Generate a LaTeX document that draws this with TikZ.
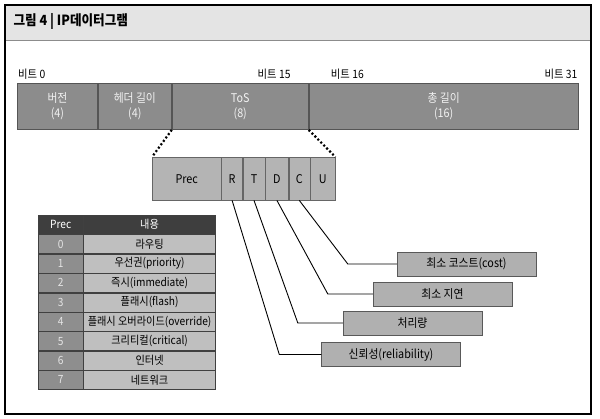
\documentclass[tikz,border=0pt]{standalone}
\usepackage{fontspec}
\setmainfont{Noto Sans CJK KR}[FakeStretch=0.9]
\usepackage{tikz}
\usetikzlibrary{positioning}
\usepackage{xcolor}
\definecolor{titlefill}{HTML}{E4E4E4}
\definecolor{barfill}{HTML}{8C8C8C}
\definecolor{bardiv}{HTML}{555555}
\definecolor{bartext}{HTML}{F2F2F2}
\definecolor{subfill}{HTML}{B4B4B4}
\definecolor{flagfill}{HTML}{B0B0B0}
\definecolor{headfill}{HTML}{3E3E3E}
\definecolor{numfill}{HTML}{8E8E8E}
\definecolor{cellfill}{HTML}{BFBFBF}
\tikzset{
  field/.style={draw=bardiv, fill=barfill, text=bartext, line width=0.9pt, align=center,
    minimum height=46pt, inner sep=0pt, font=\fontsize{12}{15}\selectfont},
  bitlbl/.style={inner sep=1pt, font=\fontsize{11.5}{13}\selectfont},
  sub/.style={draw=black!60, fill=subfill, minimum height=43pt, inner sep=0pt,
    font=\fontsize{12}{14}\selectfont},
  flag/.style={draw=black!65, fill=flagfill, minimum width=139pt, minimum height=24pt,
    inner sep=0pt, font=\fontsize{12}{14}\selectfont},
  thead/.style={draw=black!75, fill=headfill, text=white, minimum height=19pt, inner sep=0pt,
    font=\fontsize{11.3}{13}\selectfont},
  tnum/.style={thead, fill=numfill, text=white!90!black, minimum width=45pt},
  tcell/.style={thead, fill=cellfill, text=black, minimum width=132pt},
  dotline/.style={line width=2.2pt, dash pattern=on 2pt off 2.2pt},
  lead/.style={draw=black, line width=0.9pt}
}
\begin{document}
\begin{tikzpicture}[x=1pt, y=-1pt]
  \useasboundingbox (0,0) rectangle (600,419);

  % frame and title
  \node[fill=titlefill, minimum width=586pt, minimum height=36pt, inner sep=0pt, anchor=north west] (band) at (4,4) {};
  \draw[black!45] (band.south west) -- (band.south east);
  \node[draw=black, line width=2pt, minimum width=586pt, minimum height=409pt, inner sep=0pt, anchor=north west] (frame) at (4,4) {};
  \node[anchor=west, font=\bfseries\fontsize{14}{16}\selectfont] (title) at (10,22) {그림 4 | IP데이터그램};

  % header fields
  \node[field, minimum width=80pt, anchor=north west] (ver) at (17,83) {버전\\(4)};
  \node[field, minimum width=73pt, right=0pt of ver] (hlen) {헤더 길이\\(4)};
  \node[field, minimum width=136pt, right=0pt of hlen] (tos) {ToS\\(8)};
  \node[field, minimum width=269pt, right=0pt of tos] (len) {총 길이\\(16)};

  \node[bitlbl, anchor=south west] (b0) at ([yshift=2pt]ver.north west) {비트 0};
  \node[bitlbl, anchor=south east] (b15) at ([xshift=-17pt, yshift=2pt]tos.north east) {비트 15};
  \node[bitlbl, anchor=south west] (b16) at ([xshift=21pt, yshift=2pt]len.north west) {비트 16};
  \node[bitlbl, anchor=south east] (b31) at ([yshift=2pt]len.north east) {비트 31};

  % ToS bits
  \node[sub, minimum width=69pt, anchor=north west] (prec) at (152,157) {Prec};
  \node[sub, minimum width=21pt, right=0pt of prec] (r) {R};
  \node[sub, minimum width=22pt, right=0pt of r] (t) {T};
  \node[sub, minimum width=23pt, right=0pt of t] (d) {D};
  \node[sub, minimum width=21pt, right=0pt of d] (c) {C};
  \node[sub, minimum width=25pt, right=0pt of c] (u) {U};

  \draw[dotline] (tos.south west) -- (prec.north west);
  \draw[dotline] (tos.south east) -- (u.north east);

  % meanings
  \node[flag] (cost) at (466.5,264) {최소 코스트(cost)};
  \node[flag] (delay) at (442.5,294) {최소 지연};
  \node[flag] (thru) at (412.5,323) {처리량};
  \node[flag] (rel) at (391,354.5) {신뢰성(reliability)};

  \draw[lead] (c.south) -- ([xshift=-49pt]cost.west) -- (cost.west);
  \draw[lead] (d.south) -- ([xshift=-45pt]delay.west) -- (delay.west);
  \draw[lead] (t.south) -- ([xshift=-45pt]thru.west) -- (thru.west);
  \draw[lead] (r.south) -- ([xshift=-42pt]rel.west) -- (rel.west);

  % precedence table
  \node[thead, minimum width=45pt, anchor=north west] (hprec) at (38,215) {Prec};
  \node[thead, minimum width=132pt, right=0pt of hprec] (hcont) {내용};
  \node[tnum, below=0pt of hprec] (p0) {0};
  \node[tcell, below=0pt of hcont] (c0) {라우팅};
  \node[tnum, below=0pt of p0] (p1) {1};
  \node[tcell, below=0pt of c0] (c1) {우선권(priority)};
  \node[tnum, below=0pt of p1] (p2) {2};
  \node[tcell, below=0pt of c1] (c2) {즉시(immediate)};
  \node[tnum, below=0pt of p2] (p3) {3};
  \node[tcell, below=0pt of c2] (c3) {플래시(flash)};
  \node[tnum, below=0pt of p3] (p4) {4};
  \node[tcell, below=0pt of c3] (c4) {플래시 오버라이드(override)};
  \node[tnum, below=0pt of p4] (p5) {5};
  \node[tcell, below=0pt of c4] (c5) {크리티컬(critical)};
  \node[tnum, below=0pt of p5] (p6) {6};
  \node[tcell, below=0pt of c5] (c6) {인터넷};
  \node[tnum, below=0pt of p6] (p7) {7};
  \node[tcell, below=0pt of c6] (c7) {네트워크};
\end{tikzpicture}
\end{document}
